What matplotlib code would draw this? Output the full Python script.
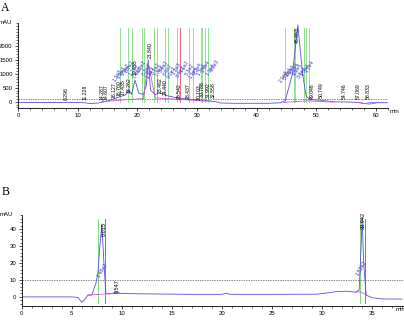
"""Two-panel chromatogram (A: full run, B: zoomed run) with peak marks and labels."""
import matplotlib
matplotlib.use("Agg")
import matplotlib.pyplot as plt
from matplotlib.ticker import MultipleLocator

plt.rcParams["font.family"] = ["Liberation Sans", "DejaVu Sans"]

# ---- panel A: signal trace (min, mAU)
a_t = [0, 8.0, 8.3, 8.6, 10, 11.2, 12, 13.5, 14.3, 15, 16, 17, 18, 18.6, 19.0, 19.6,
       20.2, 21.0, 21.5, 21.8, 22.2, 23.0, 23.5, 24.4, 25.0, 26.5, 28.4, 30.0, 31.0,
       32.0, 33.0, 34.0, 36, 42, 44, 44.8, 46.0, 46.9, 47.7, 48.3, 49.0, 50.7, 53.0,
       54.7, 57.0, 58.0, 59.0, 62]
a_v = [-20, -20, -5, -20, -25, -30, -60, -40, 0, 30, 100, 180, 250, 420, 260, 780,
       320, 260, 600, 1500, 420, 250, 320, 280, 220, 150, 100, 80, 60,
       30, 10, -40, -50, -50, -30, 50, 1000, 2750, 1000, 200, 80, 60, 0,
       0, -20, -60, -30, -30]
# magenta baseline pieces
a_base_t = [[14.0, 17.0, 21.0, 21.8, 23.0, 27.0, 33.0], [44.5, 48.5, 53.0], [57.0, 58.8, 60.0]]
a_base_v = [[0, 60, 120, 1400, 140, 90, 10], [-20, 40, -10], [-20, -80, -40]]
# retention-time labels (black) and where their base sits
a_rt = ["8.296", "11.228", "14.287", "14.607", "16.127", "16.760", "17.435", "18.262",
        "19.655", "21.840", "23.462", "24.440", "26.542", "28.437", "30.103", "30.788",
        "31.992", "32.558", "46.863", "49.046", "50.749", "54.746", "57.069", "58.833"]
a_rt_x = [8.1, 11.3, 14.0, 14.8, 16.1, 16.9, 17.6, 18.6, 19.7, 22.2, 23.8, 24.7, 27.1,
          28.6, 30.3, 30.9, 31.9, 32.7, 46.9, 49.3, 50.9, 54.7, 57.1, 58.8]
a_rt_y = [70, 70, 70, 70, 150, 200, 260, 320, 960, 1570, 320, 250, 120, 90, 80, 180,
          150, 150, 2100, 120, 150, 120, 120, 120]
# integration marks
a_green = [17.15, 18.5, 19.05, 20.7, 21.05, 22.7, 23.2, 24.6, 25.2, 26.6, 28.6, 29.3,
           30.9, 31.9, 44.7, 46.2, 48.0, 48.3]
a_olive = [30.6, 31.3, 46.5, 48.7]
a_red = [27.1]
# peak-area labels (blue, slanted)
a_area = ["1.2e3", "1.0e3", "9.5e2", "8.8e2", "1.1e3", "7.4e2", "9.9e2", "6.2e2", "1.3e3",
          "8.1e2", "7.7e2", "5.9e2", "6.6e2", "9.0e2", "1.2e3", "8.4e2", "7.1e2", "5.3e2",
          "1.9e4", "2.2e4", "1.7e4", "1.4e4", "1.1e4", "9.6e3"]
a_area_x = [16.6, 17.3, 18.0, 18.7, 19.4, 20.1, 20.8, 21.5, 22.2, 23.0, 23.7, 24.4,
            25.1, 25.8, 26.5, 27.2, 28.0, 28.7, 29.4, 30.1, 30.8, 31.5, 32.2, 32.9]
a_area_y = [950, 1050, 1150, 1250, 1150, 1050, 1250, 1150, 1050, 1200, 1100, 1250,
            1150, 1050, 1200, 1100, 1250, 1150, 1050, 1200, 1150, 1250, 1150, 1300]
a_area2_x = [44.6, 45.2, 45.8, 46.4, 47.0, 47.6, 48.2, 48.8]
a_area2_y = [900, 1000, 1100, 1200, 1150, 1050, 1150, 1250]
a_area2 = ["2.1e4", "3.3e4", "4.6e4", "5.2e4", "4.9e4", "3.8e4", "2.7e4", "1.5e4"]

# ---- panel B: signal trace
b_t = [0, 5.0, 5.6, 6.0, 6.3, 6.6, 7.0, 7.4, 7.6, 7.8, 8.0, 8.2, 8.4, 8.7, 9.0, 9.5,
       9.9, 12, 17, 20.0, 20.4, 20.8, 25, 29.5, 30.5, 31.5, 32.5, 33.3, 33.7, 33.9,
       34.0, 34.15, 34.4, 35.0, 36.0, 38.0]
b_v = [0, 0, -0.3, -3.2, -1.5, 1.0, 1.2, 8, 14, 30, 43, 20, 2, 1.8, 2, 3,
       2, 1.8, 1.5, 1.5, 2.2, 1.5, 1.5, 1.6, 2.3, 3.2, 3.3, 2.8, 4, 30,
       47, 20, 1, -0.5, -1.2, -1.3]
b_base_t = [[6.6, 7.6, 8.4, 10.0], [33.3, 33.8, 34.3]]
b_base_v = [[1.0, 1.4, 1.8, 2.0], [2.8, 3.0, 1.5]]
b_rt = ["8.015", "9.547", "33.942"]
b_rt_x = [8.25, 9.55, 34.1]
b_rt_y = [36, 2.5, 40]
b_green = [7.6, 33.8]
b_red = [8.33, 34.3]
b_area = ["1.48e2", "1.52e2"]
b_area_x = [7.4, 33.3]
b_area_y = [11, 12]

TRACE = "#5a4fd6"
BASE = "#d055d0"
GREEN = "#7ddc7d"
OLIVE = "#c2c27a"
RED = "#e0506a"
FS = 4.3


def style_axis(ax):
    for s in ("top", "right"):
        ax.spines[s].set_visible(False)
    for s in ("left", "bottom"):
        ax.spines[s].set_linewidth(0.6)
    ax.tick_params(which="major", labelsize=FS, length=2.5, width=0.5, pad=1.5)
    ax.tick_params(which="minor", length=1.5, width=0.4)


fig = plt.figure(figsize=(4.04, 3.23), dpi=100)

# -------------------- panel A
axA = fig.add_axes([0.045, 0.666, 0.915, 0.263])
axA.set_xlim(0, 62)
axA.set_ylim(-214, 2820)
style_axis(axA)
axA.xaxis.set_major_locator(MultipleLocator(10))
axA.xaxis.set_minor_locator(MultipleLocator(2))
axA.yaxis.set_minor_locator(MultipleLocator(100))
axA.set_yticks([0, 500, 1000, 1500, 2000])
for x in a_green:
    axA.plot([x, x], [0, 2640], color=GREEN, lw=0.6)
for x in a_olive:
    axA.plot([x, x], [0, 2640], color=OLIVE, lw=0.6)
for x in a_red:
    axA.plot([x, x], [0, 2640], color=RED, lw=0.6)
axA.axhline(100, color="0.35", lw=0.5, ls=(0, (2, 1.5)))
axA.plot(a_t, a_v, color=TRACE, lw=0.6)
for bt, bv in zip(a_base_t, a_base_v):
    axA.plot(bt, bv, color=BASE, lw=0.6)
for s, x, y in zip(a_rt, a_rt_x, a_rt_y):
    axA.text(x, y, s, rotation=90, fontsize=FS - 0.6, ha="center", va="bottom")
for s, x, y in zip(a_area + a_area2, a_area_x + a_area2_x, a_area_y + a_area2_y):
    axA.text(x, y, s, rotation=60, fontsize=FS - 0.5, color="#3a3ad0",
             ha="center", va="center")
axA.text(-1, 2830, "mAU", fontsize=FS, ha="right", va="center")
axA.text(62.3, -260, "min", fontsize=FS, ha="left", va="top")
fig.text(0.003, 0.975, "A", fontsize=8.5, family="Liberation Serif", va="center")

# -------------------- panel B
axB = fig.add_axes([0.054, 0.053, 0.944, 0.281])
axB.set_xlim(0, 38.1)
axB.set_ylim(-5.3, 48.2)
style_axis(axB)
axB.xaxis.set_major_locator(MultipleLocator(5))
axB.xaxis.set_minor_locator(MultipleLocator(1))
axB.set_yticks([0, 10, 20, 30, 40])
axB.yaxis.set_minor_locator(MultipleLocator(2))
for x in b_green:
    axB.plot([x, x], [-3.5, 46], color=GREEN, lw=0.7)
for x in b_red:
    axB.plot([x, x], [-3.5, 46], color=RED, lw=0.7)
axB.axhline(10, color="0.35", lw=0.5, ls=(0, (2, 1.5)))
axB.plot(b_t, b_v, color=TRACE, lw=0.6)
for bt, bv in zip(b_base_t, b_base_v):
    axB.plot(bt, bv, color=BASE, lw=0.6)
for s, x, y in zip(b_rt, b_rt_x, b_rt_y):
    axB.text(x, y, s, rotation=90, fontsize=FS - 0.3, ha="center", va="bottom")
for s, x, y in zip(b_area, b_area_x, b_area_y):
    axB.text(x, y, s, rotation=60, fontsize=FS - 0.5, color="#3a3ad0",
             ha="left", va="bottom")
axB.text(-0.9, 48.5, "mAU", fontsize=FS, ha="right", va="center")
axB.text(37.3, -6.2, "min", fontsize=FS, ha="left", va="top")
fig.text(0.003, 0.405, "B", fontsize=8.5, family="Liberation Serif", va="center")

fig.savefig("out.png", dpi=100)
